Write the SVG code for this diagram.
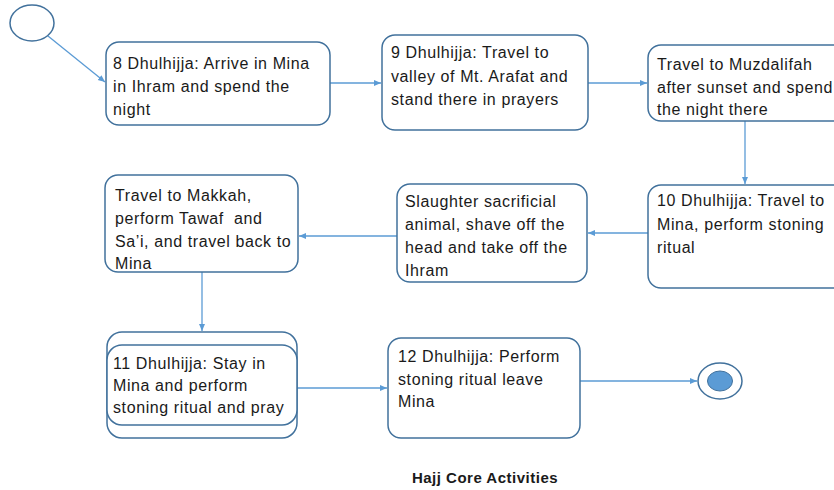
<svg xmlns="http://www.w3.org/2000/svg" width="834" height="490" viewBox="0 0 834 490">
<defs>
<marker id="ah" markerWidth="8" markerHeight="8" refX="7" refY="4" orient="auto" markerUnits="userSpaceOnUse">
<path d="M0,1 L7,4 L0,7 Z" fill="#5b9bd5"/>
</marker>
<style>
.box{fill:#fff;stroke:#41719c;stroke-width:1.5}
.t{font-family:"Liberation Sans",Arial,sans-serif;font-size:16px;letter-spacing:0.6px;fill:#1a1a1a;white-space:pre}
.c{fill:none;stroke:#5b9bd5;stroke-width:1.3;marker-end:url(#ah)}
.title{font-family:"Liberation Sans",Arial,sans-serif;font-size:15px;letter-spacing:0.5px;font-weight:bold;fill:#1a1a1a}
</style>
</defs>
<rect width="834" height="490" fill="#fff"/>
<g id="connectors">
<line class="c" x1="48" y1="36" x2="105" y2="82"/>
<line class="c" x1="330" y1="83" x2="381" y2="83"/>
<line class="c" x1="588" y1="83" x2="647" y2="83"/>
<line class="c" x1="745" y1="121" x2="745" y2="184"/>
<line class="c" x1="648" y1="233" x2="588" y2="233"/>
<line class="c" x1="397" y1="236" x2="299" y2="236"/>
<line class="c" x1="202" y1="272" x2="202" y2="331"/>
<line class="c" x1="297" y1="388" x2="387" y2="388"/>
<line class="c" x1="580" y1="381" x2="697" y2="381"/>
</g>
<g id="start"><ellipse cx="32" cy="23" rx="22" ry="18" fill="#fff" stroke="#41719c" stroke-width="1.5"/></g>
<g id="n1"><rect class="box" x="106" y="42" width="224" height="83" rx="13"/>
<text class="t" x="113" y="69">8 Dhulhijja: Arrive in Mina</text>
<text class="t" x="113" y="92">in Ihram and spend the</text>
<text class="t" x="113" y="115">night</text></g>
<g id="n2"><rect class="box" x="382" y="35" width="206" height="95" rx="13"/>
<text class="t" x="391" y="58">9 Dhulhijja: Travel to</text>
<text class="t" x="391" y="82">valley of Mt. Arafat and</text>
<text class="t" x="391" y="105">stand there in prayers</text></g>
<g id="n3"><rect class="box" x="648" y="45" width="200" height="76" rx="13"/>
<text class="t" x="657" y="70">Travel to Muzdalifah</text>
<text class="t" x="657" y="93">after sunset and spend</text>
<text class="t" x="657" y="115">the night there</text></g>
<g id="n4"><rect class="box" x="648" y="185" width="200" height="103" rx="13"/>
<text class="t" x="657" y="206">10 Dhulhijja: Travel to</text>
<text class="t" x="657" y="230">Mina, perform stoning</text>
<text class="t" x="657" y="253">ritual</text></g>
<g id="n5"><rect class="box" x="397" y="184" width="190" height="98" rx="13"/>
<text class="t" x="405" y="207">Slaughter sacrificial</text>
<text class="t" x="405" y="230">animal, shave off the</text>
<text class="t" x="405" y="253">head and take off the</text>
<text class="t" x="405" y="276">Ihram</text></g>
<g id="n6"><rect class="box" x="105" y="175" width="193" height="97" rx="13"/>
<text class="t" x="115" y="201">Travel to Makkah,</text>
<text class="t" x="115" y="224" xml:space="preserve">perform Tawaf  and</text>
<text class="t" x="115" y="247">Sa’i, and travel back to</text>
<text class="t" x="115" y="269">Mina</text></g>
<g id="n7"><rect class="box" x="107" y="332" width="190" height="106" rx="15"/>
<rect class="box" x="107" y="345" width="190" height="80" rx="15"/>
<text class="t" x="113" y="369">11 Dhulhijja: Stay in</text>
<text class="t" x="113" y="391">Mina and perform</text>
<text class="t" x="113" y="413">stoning ritual and pray</text></g>
<g id="n8"><rect class="box" x="388" y="338" width="192" height="100" rx="13"/>
<text class="t" x="398" y="362">12 Dhulhijja: Perform</text>
<text class="t" x="398" y="385">stoning ritual leave</text>
<text class="t" x="398" y="407">Mina</text></g>
<g id="end"><ellipse cx="720" cy="381" rx="22" ry="18" fill="#fff" stroke="#41719c" stroke-width="1.5"/>
<ellipse cx="720" cy="381" rx="12.5" ry="10" fill="#5b9bd5" stroke="#41719c" stroke-width="1"/></g>
<text class="title" x="485" y="483" text-anchor="middle">Hajj Core Activities</text>
</svg>
